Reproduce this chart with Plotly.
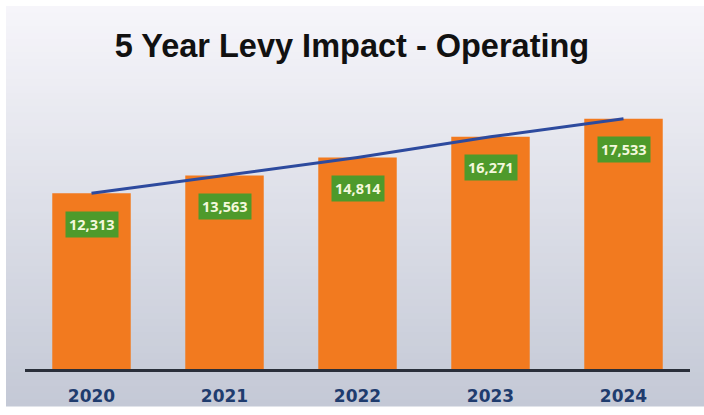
import plotly.graph_objects as go

# Operating levy by year
years = ["2020", "2021", "2022", "2023", "2024"]
levy = [12313, 13563, 14814, 16271, 17533]
labels = ["12,313", "13,563", "14,814", "16,271", "17,533"]

W, H = 704, 415
plot_left, plot_right = 25, 690
plot_top, plot_bottom = 90, 369
px_per_unit = 0.01427
y_max = (plot_bottom - plot_top) / px_per_unit

fig = go.Figure()

fig.add_trace(go.Bar(
    x=years, y=levy,
    marker=dict(color="#f27a1f", line=dict(width=0)),
    width=0.59,
    hoverinfo="skip",
))

fig.add_trace(go.Scatter(
    x=years, y=levy,
    mode="lines",
    line=dict(color="#2d4a9e", width=3),
    hoverinfo="skip",
))

# value tags inside the bars (positioned by category index)
for i, (v, t) in enumerate(zip(levy, labels)):
    fig.add_annotation(
        x=i, y=v, xref="x", yref="y", text="<b>" + t + "</b>",
        showarrow=False, yshift=-31,
        font=dict(family="Open Sans", size=14.5, color="#f4f8dc"),
        bgcolor="#4e9a2b", borderpad=3,
    )

# soft vertical gradient panel behind the chart
shapes = []
top_rgb = (246, 245, 250)
bot_rgb = (196, 201, 214)
pan_top, pan_bot, pan_left = 6, 406, 6
n = 60
for k in range(n):
    f = k / (n - 1)
    c = tuple(int(round(a + (b - a) * f)) for a, b in zip(top_rgb, bot_rgb))
    y0 = pan_top + (pan_bot - pan_top) * k / n
    y1 = pan_top + (pan_bot - pan_top) * (k + 1) / n + 0.6
    shapes.append(dict(
        type="rect", xref="paper", yref="paper", layer="below",
        x0=(pan_left - plot_left) / (plot_right - plot_left),
        x1=(W - plot_left) / (plot_right - plot_left),
        y0=(plot_bottom - y1) / (plot_bottom - plot_top),
        y1=(plot_bottom - y0) / (plot_bottom - plot_top),
        fillcolor="rgb(%d,%d,%d)" % c, line=dict(width=0),
    ))

fig.update_layout(
    width=W, height=H,
    margin=dict(l=plot_left, r=W - plot_right, t=plot_top, b=H - plot_bottom),
    paper_bgcolor="white",
    plot_bgcolor="rgba(0,0,0,0)",
    showlegend=False,
    shapes=shapes,
    title=dict(
        text="<b>5 Year Levy Impact - Operating</b>",
        x=0.5, xanchor="center", y=1 - 46 / H, yanchor="middle",
        font=dict(family="Liberation Sans", size=32.5, color="#111111"),
    ),
    xaxis=dict(
        type="category", range=[-0.5, 4.5], automargin=False,
        showgrid=False, zeroline=False,
        showline=True, linecolor="#2a2f3a", linewidth=2.5,
        ticks="", ticklabelstandoff=10,
        tickfont=dict(family="DejaVu Sans", size=17, color="#1f3c6e", weight="bold"),
    ),
    yaxis=dict(
        range=[0, y_max], visible=False, showgrid=False, zeroline=False,
        automargin=False,
    ),
)

fig.write_html("out.html")
